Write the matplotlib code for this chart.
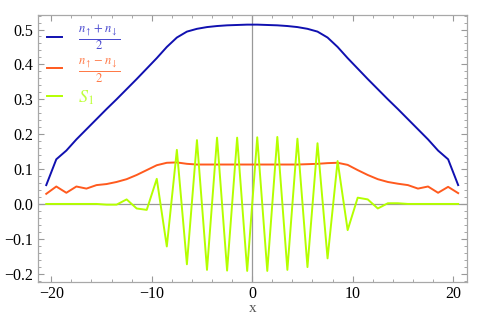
#!/usr/bin/env python3
"""Density, magnetisation and S1 profile along x."""

import matplotlib

matplotlib.use("Agg")
import matplotlib.pyplot as plt
import numpy as np
from matplotlib.ticker import MultipleLocator

# sites sit on half-integer positions
x_sites = np.arange(-20.5, 20.6, 1.0)

density_left = [
    0.054, 0.128, 0.153, 0.185, 0.214, 0.243, 0.272, 0.300, 0.329, 0.358, 0.388,
    0.418, 0.450, 0.477, 0.494, 0.502, 0.507, 0.510, 0.512, 0.513, 0.514,
]
density = density_left + density_left[::-1]

magnet_left = [
    0.029, 0.050, 0.032, 0.050, 0.044, 0.054, 0.057, 0.063, 0.071, 0.083, 0.097,
    0.111, 0.118, 0.119, 0.115, 0.113, 0.113, 0.113, 0.113, 0.113, 0.113,
]
magnet_right = [
    0.113, 0.113, 0.113, 0.113, 0.113, 0.114, 0.115, 0.117, 0.118, 0.112, 0.097,
    0.083, 0.071, 0.063, 0.058, 0.054, 0.044, 0.050, 0.032, 0.049, 0.031,
]
magnetisation = magnet_left + magnet_right

s1 = [
    0.0, 0.0, 0.0, 0.0, 0.0, 0.0, -0.002, -0.002, 0.013, -0.013, -0.017,
    0.072, -0.122, 0.155, -0.173, 0.183, -0.189, 0.190, -0.191, 0.190, -0.192,
    0.191, -0.192, 0.192, -0.189, 0.187, -0.181, 0.174, -0.156, 0.123, -0.075,
    0.018, 0.013, -0.013, 0.002, 0.002, 0.0, 0.0, 0.0, 0.0, 0.0, 0.0,
]

labels = [
    r"$\frac{n_{\uparrow}+n_{\downarrow}}{2}$",
    r"$\frac{n_{\uparrow}-n_{\downarrow}}{2}$",
    r"$S_1$",
]
colors = ["#1010b0", "#ff5a1e", "#b4ff00"]
text_colors = ["#4a4ad0", "#ff7a48", "#c0ff40"]

plt.rcParams["font.family"] = ["Liberation Serif", "DejaVu Serif"]
plt.rcParams["mathtext.fontset"] = "stix"

fig = plt.figure(figsize=(4.86, 3.2), dpi=100)
ax = fig.add_axes([0.0776, 0.12, 0.8827, 0.833])

ax.axhline(0, color="#999999", lw=0.9, zorder=1)
ax.axvline(0, color="#999999", lw=0.9, zorder=1)

for series, label, color in zip([density, magnetisation, s1], labels, colors):
    ax.plot(x_sites, series, color=color, lw=1.4, label=label, zorder=2)

ax.set_xlim(-21.35, 21.35)
ax.set_ylim(-0.2226, 0.5415)

ax.xaxis.set_major_locator(MultipleLocator(10))
ax.xaxis.set_minor_locator(MultipleLocator(2))
ax.yaxis.set_major_locator(MultipleLocator(0.1))
ax.yaxis.set_minor_locator(MultipleLocator(0.02))
ax.yaxis.set_major_formatter(lambda v, pos: f"{v:.1f}".replace("-", "\u2212"))
ax.xaxis.set_major_formatter(lambda v, pos: f"{v:.0f}".replace("-", "\u2212"))

ax.tick_params(which="both", direction="in", top=True, right=True,
               color="#999999", labelsize=11.5, pad=3)
ax.tick_params(which="major", length=4)
ax.tick_params(which="minor", length=2)
for spine in ax.spines.values():
    spine.set_color("#a8a8a8")
    spine.set_linewidth(0.9)

ax.set_xlabel("x", color="#555555", fontsize=11, labelpad=0)

leg = ax.legend(loc="upper left", frameon=False, handlelength=0.85,
                handletextpad=0.86, labelspacing=0.2, fontsize=13,
                borderaxespad=0.1)
for text, color in zip(leg.get_texts(), text_colors):
    text.set_color(color)

fig.savefig("out.png", dpi=100)
